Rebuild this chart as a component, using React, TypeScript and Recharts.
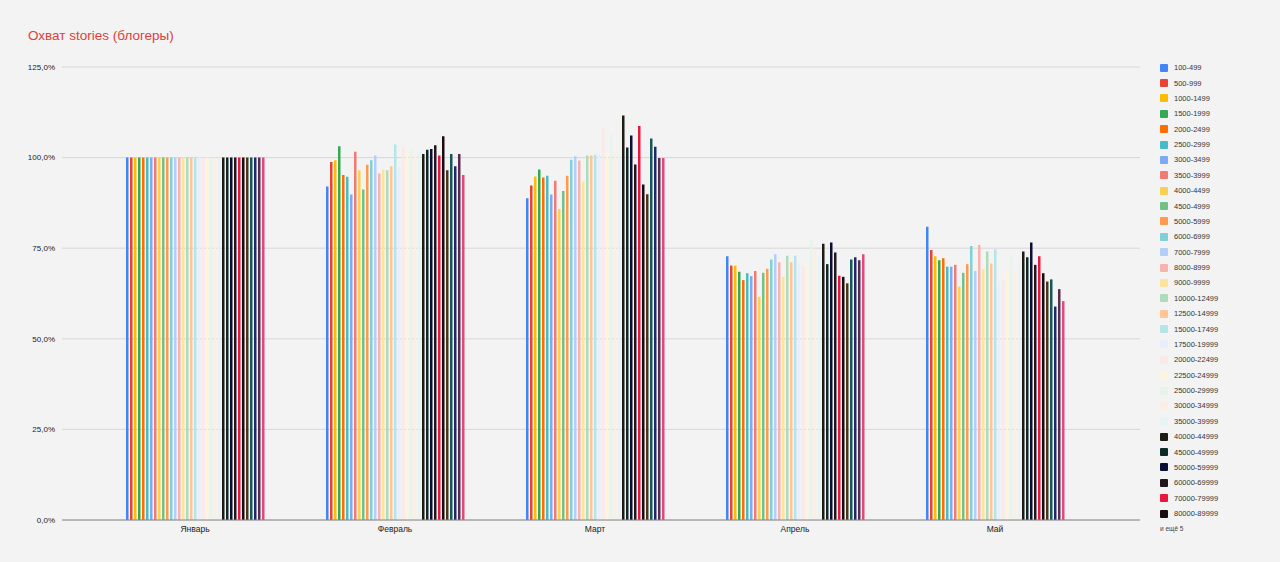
import React from "react";
import { BarChart, Bar, XAxis, YAxis, CartesianGrid } from "recharts";

const months = ["Январь", "Февраль", "Март", "Апрель", "Май"];

const groups = [
  "100-499", "500-999", "1000-1499", "1500-1999", "2000-2499", "2500-2999", "3000-3499",
  "3500-3999", "4000-4499", "4500-4999", "5000-5999", "6000-6999", "7000-7999", "8000-8999",
  "9000-9999", "10000-12499", "12500-14999", "15000-17499", "17500-19999", "20000-22499",
  "22500-24999", "25000-29999", "30000-34999", "35000-39999", "40000-44999", "45000-49999",
  "50000-59999", "60000-69999", "70000-79999", "80000-89999", "90000-99999", "100000-149999",
  "150000-199999", "200000-499999", "500000+",
];

const colors = [
  "#4285f4", "#ea4335", "#fbbc04", "#34a853", "#ff6d01", "#46bdc6", "#7baaf7",
  "#f07b72", "#fcd04f", "#71c287", "#ff994d", "#7ed1d7", "#b3cefb", "#f7b4ae",
  "#fde49b", "#aedcba", "#ffc599", "#b5e5e8", "#e8eefb", "#fbe9e8",
  "#fdf3e0", "#e8f3eb", "#fdeee4", "#e7f4f5", "#1f1a14", "#0d2a24",
  "#0b0f33", "#22151c", "#e8173f", "#1a0c10", "#4a3518", "#16585a",
  "#1c2a6c", "#5a2a50", "#e04a7a",
];

// охват в % по месяцам, порядок как в groups
const jan = [
  100, 100, 100, 100, 100, 100, 100, 100, 100, 100, 100, 100, 100, 100, 100, 100, 100, 100,
  100, 100, 100, 100, 100, 100, 100, 100, 100, 100, 100, 100, 100, 100, 100, 100, 100,
];
const feb = [
  92.0, 98.8, 99.3, 103.1, 95.2, 94.7, 89.8, 101.6, 96.5, 91.2, 98.0, 99.3, 100.6, 95.6,
  96.7, 96.5, 97.6, 103.6, 97.5, 103.0, 101.5, 102.0, 101.0, 102.0, 101.0, 102.2, 102.4,
  103.4, 100.6, 105.9, 96.5, 101.0, 97.6, 101.0, 95.2,
];
const mar = [
  88.8, 92.3, 94.8, 96.7, 94.5, 95.0, 89.8, 93.6, 85.8, 90.8, 95.0, 99.4, 100.4, 99.2,
  93.4, 100.6, 100.6, 100.8, 101.0, 108.3, 101.0, 106.4, 101.5, 101.0, 111.6, 102.8, 106.1,
  98.1, 108.7, 92.6, 89.9, 105.3, 103.0, 99.9, 99.9,
];
const apr = [
  72.8, 70.2, 70.2, 68.5, 66.2, 68.1, 67.3, 68.7, 61.6, 68.2, 69.3, 71.9, 73.3, 71.1,
  67.1, 72.9, 71.1, 72.9, 70.4, 70.1, 70.4, 77.3, 74.5, 73.0, 76.2, 70.6, 76.6, 73.8,
  67.4, 67.1, 65.3, 71.9, 72.5, 71.7, 73.3,
];
const may = [
  80.9, 74.5, 72.8, 71.7, 72.2, 69.9, 69.9, 70.4, 64.4, 68.2, 70.6, 75.6, 68.7, 75.9,
  69.2, 74.1, 70.8, 74.7, 65.8, 66.2, 69.0, 73.1, 69.0, 71.0, 74.1, 72.5, 76.6, 70.4,
  72.8, 68.1, 65.8, 66.4, 58.9, 63.7, 60.4,
];

const yTicks = [0, 25, 50, 75, 100, 125];

const byMonth = [jan, feb, mar, apr, may];
const data = months.map((m, i) => {
  const row: Record<string, string | number> = { name: m };
  groups.forEach((g, j) => {
    row[g] = byMonth[i][j];
  });
  return row;
});

const fmt = (v: number) => v.toFixed(1).replace(".", ",") + "%";

const font = "Arial, 'Liberation Sans', sans-serif";

function LegendBox() {
  const shown = groups.slice(0, 30);
  return (
    <div
      style={{
        position: "absolute",
        left: 1160,
        top: 60,
        width: 110,
        fontFamily: font,
        fontSize: 7.5,
        color: "#333",
      }}
    >
      {shown.map((g, i) => (
        <div key={g} style={{ display: "flex", alignItems: "center", height: 15.38 }}>
          <span
            style={{
              display: "inline-block",
              width: 8,
              height: 8,
              background: colors[i],
              borderRadius: 1,
              marginRight: 6,
            }}
          />
          {g}
        </div>
      ))}
      <div style={{ height: 15.38, lineHeight: "15.38px", fontSize: 6.5, color: "#444" }}>
        и ещё 5
      </div>
    </div>
  );
}

export default function App() {
  return (
    <div
      style={{
        position: "fixed",
        left: 0,
        top: 0,
        width: 1280,
        height: 562,
        background: "#f3f3f3",
        fontFamily: font,
      }}
    >
      <div
        style={{
          position: "absolute",
          left: 28,
          top: 28,
          fontSize: 13.5,
          color: "#e0403a",
        }}
      >
        Охват stories (блогеры)
      </div>
      <BarChart
        width={1280}
        height={562}
        data={data}
        margin={{ top: 67, right: 140, left: 10, bottom: 12 }}
        barGap={1.5}
      >
        <CartesianGrid vertical={false} stroke="#cfcfcf" strokeWidth={0.8} />
        <XAxis
          dataKey="name"
          tickLine={false}
          axisLine={{ stroke: "#8a8a8a" }}
          padding={{ left: 33, right: 45 }}
          tick={{ fontSize: 8.5, fill: "#222", fontFamily: font }}
          tickSize={0}
          tickMargin={6}
        />
        <YAxis
          width={52}
          domain={[0, 125]}
          ticks={yTicks}
          tickFormatter={fmt}
          axisLine={false}
          tickLine={false}
          tickSize={0}
          tickMargin={7}
          tick={{ fontSize: 8, fill: "#222", fontFamily: font }}
        />
        {groups.map((g, i) => (
          <Bar key={g} dataKey={g} fill={colors[i]} barSize={2.5} isAnimationActive={false} />
        ))}
      </BarChart>
      <LegendBox />
    </div>
  );
}
